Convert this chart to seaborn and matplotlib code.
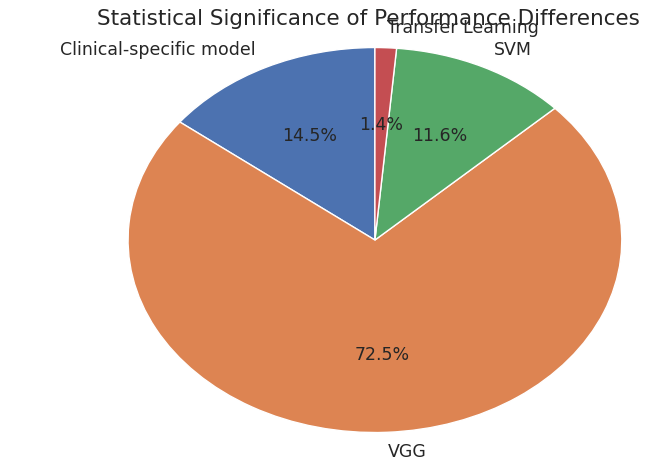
import seaborn as sns
import matplotlib.pyplot as plt

# Share of significant differences per model
models = ["Clinical-specific model", "VGG", "SVM", "Transfer Learning"]
shares = [14.5, 72.5, 11.6, 1.4]

sns.set_theme()
colors = sns.color_palette("deep", 4)

fig = plt.figure(figsize=(6.7, 4.62), dpi=100)
ax = fig.add_axes([0.0806, 0.0013, 0.958, 1.0])

wedges, texts, autotexts = ax.pie(shares, labels=models, colors=colors,
                                  autopct="%1.1f%%", startangle=90,
                                  textprops={"fontsize": 12.5})
# the reference is stretched sideways, so the pie is an ellipse
ax.set_aspect("auto")
ax.set_xlim(-1.3, 1.3)
ax.set_ylim(-1.15, 1.25)

fig.text(0.55, 0.946, "Statistical Significance of Performance Differences",
         ha="center", va="baseline", fontsize=15.5, color=".15")

plt.savefig("out.png", dpi=100)
